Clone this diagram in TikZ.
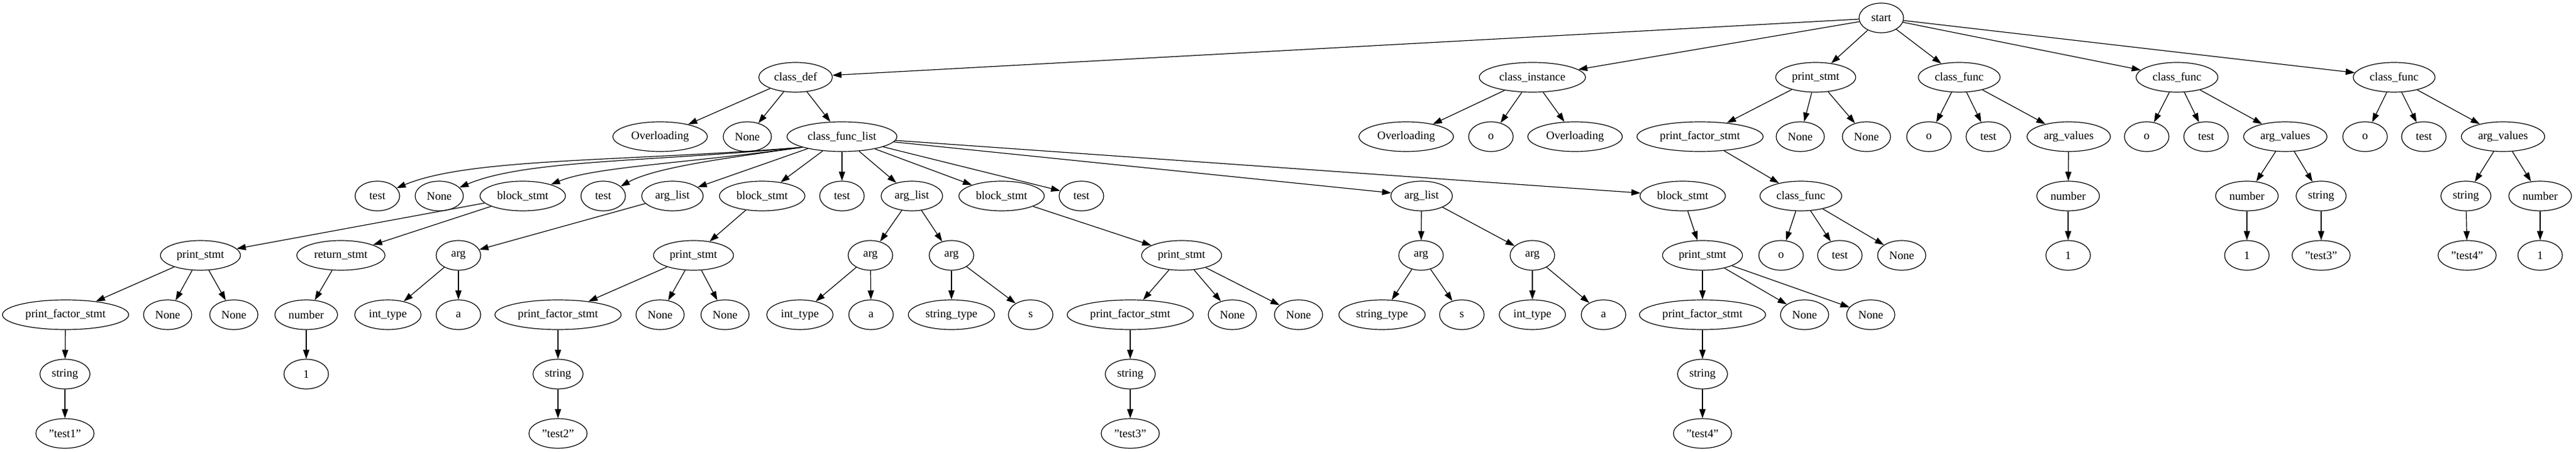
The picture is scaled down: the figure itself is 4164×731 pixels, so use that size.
\documentclass[tikz,border=0pt]{standalone}
\usepackage{fontspec}
\setmainfont{Liberation Serif}
\usepackage{tikz}
\usetikzlibrary{shapes.geometric, arrows.meta}

\begin{document}
\begin{tikzpicture}[x=0.75pt, y=-0.75pt,
    ast/.style={ellipse, draw, line width=0.9pt, minimum width=54pt, minimum height=36pt,
        inner xsep=5.5pt, inner ysep=0pt, font=\fontsize{14pt}{16pt}\selectfont},
    link/.style={->, line width=0.9pt},
    >={Triangle[length=11pt, width=7.5pt]}]
    \useasboundingbox (0,0) rectangle (4164,731);

    % Root
    \node[ast] (start) at (3041,29) {start};

    % Level 1
    \node[ast] (cdef) at (1286,125) {class\_def};
    \node[ast] (cinst) at (2477,125) {class\_instance};
    \node[ast] (ps0) at (2935,125) {print\_stmt};
    \node[ast] (cf1) at (3167,125) {class\_func};
    \node[ast] (cf2) at (3519,125) {class\_func};
    \node[ast] (cf3) at (3870,125) {class\_func};

    % Level 2
    \node[ast] (ov1) at (1067,221) {Overloading};
    \node[ast] (none0) at (1208,221) {None};
    \node[ast] (cfl) at (1361,221) {class\_func\_list};
    \node[ast] (ov2) at (2273,221) {Overloading};
    \node[ast] (obj) at (2410,221) {o};
    \node[ast] (ov3) at (2546,221) {Overloading};
    \node[ast] (pfs0) at (2748,221) {print\_factor\_stmt};
    \node[ast] (none01) at (2910,221) {None};
    \node[ast] (none02) at (3017,221) {None};
    \node[ast] (o1) at (3118,221) {o};
    \node[ast] (tst1) at (3214,221) {test};
    \node[ast] (av1) at (3344,221) {arg\_values};
    \node[ast] (o2) at (3470,221) {o};
    \node[ast] (tst2) at (3566,221) {test};
    \node[ast] (av2) at (3694,221) {arg\_values};
    \node[ast] (o3) at (3823,221) {o};
    \node[ast] (tst3) at (3918,221) {test};
    \node[ast] (av3) at (4046,221) {arg\_values};

    % Level 3
    \node[ast] (ta) at (610,317) {test};
    \node[ast] (na) at (710,317) {None};
    \node[ast] (bs1) at (845,317) {block\_stmt};
    \node[ast] (tb) at (975,317) {test};
    \node[ast] (al1) at (1087,317) {arg\_list};
    \node[ast] (bs2) at (1232,317) {block\_stmt};
    \node[ast] (tc) at (1361,317) {test};
    \node[ast] (al2) at (1474,317) {arg\_list};
    \node[ast] (bs3) at (1619,317) {block\_stmt};
    \node[ast] (td) at (1748,317) {test};
    \node[ast] (al3) at (2298,317) {arg\_list};
    \node[ast] (bs4) at (2720,317) {block\_stmt};
    \node[ast] (cf0) at (2911,317) {class\_func};
    \node[ast] (num1) at (3343,317) {number};
    \node[ast] (num2) at (3632,317) {number};
    \node[ast] (str2) at (3752,317) {string};
    \node[ast] (str3) at (3986,317) {string};
    \node[ast] (num3) at (4106,317) {number};

    % Level 4
    \node[ast] (ps1) at (324,413) {print\_stmt};
    \node[ast] (ret) at (551,413) {return\_stmt};
    \node[ast] (arg1) at (741,413) {arg};
    \node[ast] (ps2) at (1121,413) {print\_stmt};
    \node[ast] (arg2) at (1407,413) {arg};
    \node[ast] (arg3) at (1538,413) {arg};
    \node[ast] (ps3) at (1910,413) {print\_stmt};
    \node[ast] (arg4) at (2297,413) {arg};
    \node[ast] (arg5) at (2477,413) {arg};
    \node[ast] (ps4) at (2752,413) {print\_stmt};
    \node[ast] (o0) at (2879,413) {o};
    \node[ast] (t0) at (2974,413) {test};
    \node[ast] (n0) at (3074,413) {None};
    \node[ast] (one1) at (3343,413) {1};
    \node[ast] (one2) at (3632,413) {1};
    \node[ast] (lit2) at (3752,413) {"test3"};
    \node[ast] (lit3) at (3988,413) {"test4"};
    \node[ast] (one3) at (4106,413) {1};

    % Level 5
    \node[ast] (pfs1) at (106,509) {print\_factor\_stmt};
    \node[ast] (n1a) at (271,509) {None};
    \node[ast] (n1b) at (378,509) {None};
    \node[ast] (num0) at (495,509) {number};
    \node[ast] (it1) at (627,509) {int\_type};
    \node[ast] (va1) at (741,509) {a};
    \node[ast] (pfs2) at (902,509) {print\_factor\_stmt};
    \node[ast] (n2a) at (1067,509) {None};
    \node[ast] (n2b) at (1172,509) {None};
    \node[ast] (it2) at (1293,509) {int\_type};
    \node[ast] (va2) at (1408,509) {a};
    \node[ast] (st3) at (1538,509) {string\_type};
    \node[ast] (vs3) at (1666,509) {s};
    \node[ast] (pfs3) at (1827,509) {print\_factor\_stmt};
    \node[ast] (n3a) at (1992,509) {None};
    \node[ast] (n3b) at (2099,509) {None};
    \node[ast] (st4) at (2234,509) {string\_type};
    \node[ast] (vs4) at (2363,509) {s};
    \node[ast] (it5) at (2477,509) {int\_type};
    \node[ast] (va5) at (2592,509) {a};
    \node[ast] (pfs4) at (2752,509) {print\_factor\_stmt};
    \node[ast] (n4a) at (2917,509) {None};
    \node[ast] (n4b) at (3024,509) {None};

    % Level 6
    \node[ast] (s1) at (105,605) {string};
    \node[ast] (one0) at (495,605) {1};
    \node[ast] (s2) at (902,605) {string};
    \node[ast] (s3) at (1827,605) {string};
    \node[ast] (s4) at (2752,605) {string};

    % Level 7
    \node[ast] (lit1) at (105,701) {"test1"};
    \node[ast] (lit4) at (902,701) {"test2"};
    \node[ast] (lit5) at (1827,701) {"test3"};
    \node[ast] (lit6) at (2752,701) {"test4"};

    % Edges from the root
    \draw[link] (start) -- (cdef);
    \draw[link] (start) -- (cinst);
    \draw[link] (start) -- (ps0);
    \draw[link] (start) -- (cf1);
    \draw[link] (start) -- (cf2);
    \draw[link] (start) -- (cf3);

    % class_def
    \draw[link] (cdef) -- (ov1);
    \draw[link] (cdef) -- (none0);
    \draw[link] (cdef) -- (cfl);
    \draw[link] (cfl.195) .. controls (1000,262) and (760,255) .. (ta);
    \draw[link] (cfl.195) .. controls (1050,262) and (850,258) .. (na);
    \draw[link] (cfl.195) .. controls (1100,265) and (960,270) .. (bs1);
    \draw[link] (cfl.195) .. controls (1180,255) and (1060,270) .. (tb);
    \draw[link] (cfl) -- (al1);
    \draw[link] (cfl) -- (bs2);
    \draw[link] (cfl) -- (tc);
    \draw[link] (cfl) -- (al2);
    \draw[link] (cfl) -- (bs3);
    \draw[link] (cfl) -- (td);
    \draw[link] (cfl) -- (al3);
    \draw[link] (cfl) -- (bs4);

    \draw[link] (bs1) -- (ps1);
    \draw[link] (bs1) -- (ret);
    \draw[link] (ps1) -- (pfs1);
    \draw[link] (ps1) -- (n1a);
    \draw[link] (ps1) -- (n1b);
    \draw[link] (pfs1) -- (s1);
    \draw[link] (s1) -- (lit1);
    \draw[link] (ret) -- (num0);
    \draw[link] (num0) -- (one0);

    \draw[link] (al1) -- (arg1);
    \draw[link] (arg1) -- (it1);
    \draw[link] (arg1) -- (va1);

    \draw[link] (bs2) -- (ps2);
    \draw[link] (ps2) -- (pfs2);
    \draw[link] (ps2) -- (n2a);
    \draw[link] (ps2) -- (n2b);
    \draw[link] (pfs2) -- (s2);
    \draw[link] (s2) -- (lit4);

    \draw[link] (al2) -- (arg2);
    \draw[link] (al2) -- (arg3);
    \draw[link] (arg2) -- (it2);
    \draw[link] (arg2) -- (va2);
    \draw[link] (arg3) -- (st3);
    \draw[link] (arg3) -- (vs3);

    \draw[link] (bs3) -- (ps3);
    \draw[link] (ps3) -- (pfs3);
    \draw[link] (ps3) -- (n3a);
    \draw[link] (ps3) -- (n3b);
    \draw[link] (pfs3) -- (s3);
    \draw[link] (s3) -- (lit5);

    \draw[link] (al3) -- (arg4);
    \draw[link] (al3) -- (arg5);
    \draw[link] (arg4) -- (st4);
    \draw[link] (arg4) -- (vs4);
    \draw[link] (arg5) -- (it5);
    \draw[link] (arg5) -- (va5);

    \draw[link] (bs4) -- (ps4);
    \draw[link] (ps4) -- (pfs4);
    \draw[link] (ps4) -- (n4a);
    \draw[link] (ps4) -- (n4b);
    \draw[link] (pfs4) -- (s4);
    \draw[link] (s4) -- (lit6);

    % class_instance
    \draw[link] (cinst) -- (ov2);
    \draw[link] (cinst) -- (obj);
    \draw[link] (cinst) -- (ov3);

    % print_stmt
    \draw[link] (ps0) -- (pfs0);
    \draw[link] (ps0) -- (none01);
    \draw[link] (ps0) -- (none02);
    \draw[link] (pfs0) -- (cf0);
    \draw[link] (cf0) -- (o0);
    \draw[link] (cf0) -- (t0);
    \draw[link] (cf0) -- (n0);

    % class_func calls
    \draw[link] (cf1) -- (o1);
    \draw[link] (cf1) -- (tst1);
    \draw[link] (cf1) -- (av1);
    \draw[link] (av1) -- (num1);
    \draw[link] (num1) -- (one1);

    \draw[link] (cf2) -- (o2);
    \draw[link] (cf2) -- (tst2);
    \draw[link] (cf2) -- (av2);
    \draw[link] (av2) -- (num2);
    \draw[link] (av2) -- (str2);
    \draw[link] (num2) -- (one2);
    \draw[link] (str2) -- (lit2);

    \draw[link] (cf3) -- (o3);
    \draw[link] (cf3) -- (tst3);
    \draw[link] (cf3) -- (av3);
    \draw[link] (av3) -- (str3);
    \draw[link] (av3) -- (num3);
    \draw[link] (str3) -- (lit3);
    \draw[link] (num3) -- (one3);
\end{tikzpicture}
\end{document}
